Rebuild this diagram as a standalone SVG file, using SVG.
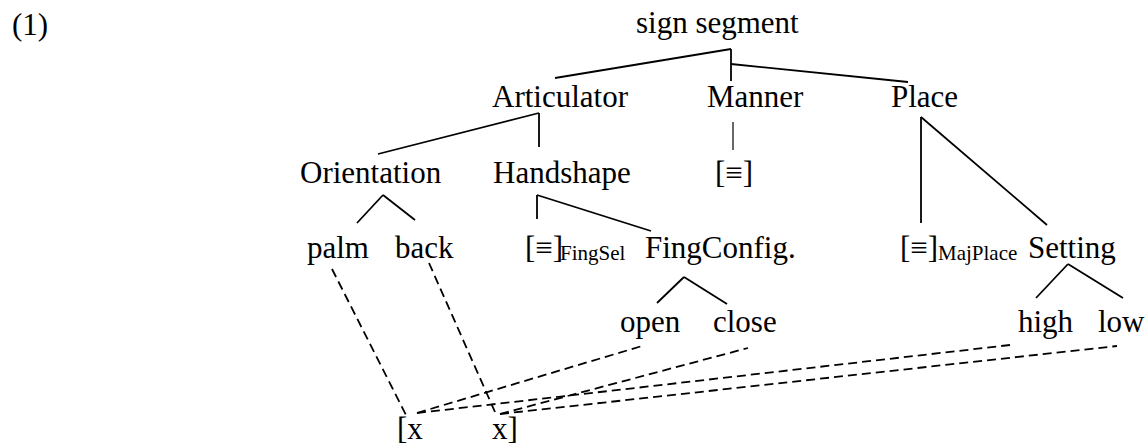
<svg xmlns="http://www.w3.org/2000/svg" width="1147" height="446" viewBox="0 0 1147 446">
<style>
.t text{font-size:31px;fill:#000}
.sub{font-size:21px}
.solid line{stroke:#000;stroke-width:1.8;fill:none}
.dash line{stroke:#000;stroke-width:1.8;stroke-dasharray:9,5;fill:none}
</style>
<rect width="1147" height="446" fill="#fff"/>
<g class="t" font-family="'Liberation Serif', 'Times New Roman', Times, 'DejaVu Serif', serif">
<text id="label1" x="12" y="35">(1)</text>
<g id="signsegment"><text x="636" y="33">sign segment</text></g>
<g id="articulator"><text x="492" y="107">Articulator</text></g>
<g id="manner"><text x="707" y="107">Manner</text></g>
<g id="place"><text x="891" y="107">Place</text></g>
<g id="orientation"><text x="300" y="183">Orientation</text></g>
<g id="handshape"><text x="493" y="183">Handshape</text></g>
<g id="mannerval"><text x="715" y="183">[≡]</text></g>
<g id="palm"><text x="307" y="258">palm</text></g>
<g id="back"><text x="395" y="258">back</text></g>
<g id="fingsel"><text x="525" y="258">[≡]<tspan class="sub" x="560" y="260">FingSel</tspan></text></g>
<g id="fingconfig"><text x="645" y="258">FingConfig.</text></g>
<g id="majplace"><text x="900" y="258">[≡]<tspan class="sub" x="938" y="260">MajPlace</tspan></text></g>
<g id="setting"><text x="1028" y="258">Setting</text></g>
<g id="open"><text x="620" y="332">open</text></g>
<g id="close"><text x="713" y="332">close</text></g>
<g id="high"><text x="1018" y="332">high</text></g>
<g id="low"><text x="1098" y="332">low</text></g>
<g id="xleft"><text x="397" y="439">[x</text></g>
<g id="xright"><text x="492" y="439">x]</text></g>
</g>
<g id="connectors">
<g class="solid">
<line x1="731" y1="49" x2="555" y2="78"/>
<line x1="731" y1="49" x2="731" y2="81"/>
<line x1="731" y1="64" x2="908" y2="82"/>
<line x1="539" y1="113" x2="378" y2="154"/>
<line x1="539" y1="113" x2="539" y2="147"/>
<line x1="733" y1="122" x2="733" y2="150" style="stroke-width:1.2"/>
<line x1="921" y1="117" x2="921" y2="223"/>
<line x1="921" y1="117" x2="1047" y2="225"/>
<line x1="383" y1="195" x2="357" y2="223"/>
<line x1="383" y1="195" x2="415" y2="220"/>
<line x1="537" y1="195" x2="537" y2="219"/>
<line x1="537" y1="195" x2="651" y2="231"/>
<line x1="684" y1="277" x2="657" y2="303"/>
<line x1="684" y1="277" x2="727" y2="304"/>
<line x1="1068" y1="264" x2="1036" y2="298"/>
<line x1="1068" y1="264" x2="1123" y2="298"/>
</g>
<g class="dash">
<line x1="332" y1="269" x2="406" y2="415"/>
<line x1="429" y1="263" x2="495" y2="412"/>
<line x1="417" y1="413" x2="642" y2="346"/>
<line x1="417" y1="413" x2="1010" y2="345"/>
<line x1="500" y1="414" x2="748" y2="348"/>
<line x1="500" y1="414" x2="1117" y2="346"/>
</g>
</g>
</svg>
